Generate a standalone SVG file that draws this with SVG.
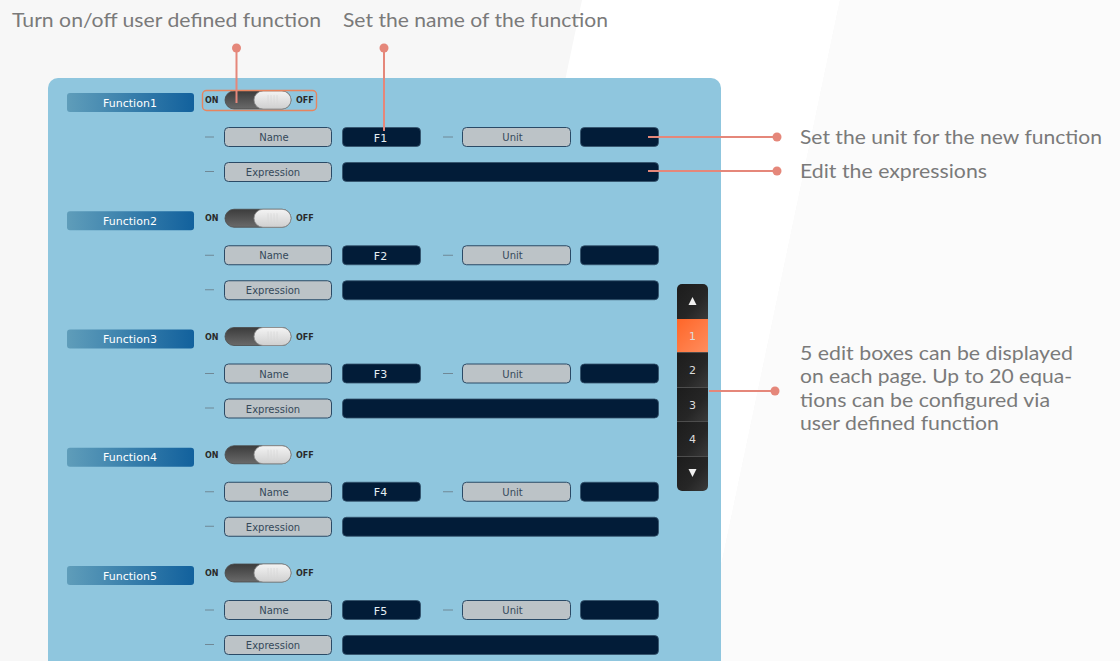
<svg xmlns="http://www.w3.org/2000/svg" width="1120" height="661" viewBox="0 0 1120 661">
<defs>
<style>
.ann{font-family:Lato,"Open Sans","Noto Sans",sans-serif;font-size:19px;fill:#7a7a7a}
.fn{font-family:"DejaVu Sans",Verdana,sans-serif;font-size:11px;fill:#ffffff;text-anchor:middle}
.lbl{font-family:"DejaVu Sans",Verdana,sans-serif;font-size:10px;fill:#34495a;text-anchor:middle}
.val{font-family:"DejaVu Sans",Verdana,sans-serif;font-size:11px;fill:#e6eef3;text-anchor:middle}
.onoff{font-family:"DejaVu Sans",Verdana,sans-serif;font-size:8px;font-weight:bold;fill:#2a2a2a}
.lb{fill:#bcc3c7;stroke:#2a4a66;stroke-width:1}
.vb{fill:#021c38;stroke:#33506a;stroke-width:0.8}
.dash{stroke:#6f8896;stroke-width:1}
.num{font-family:"DejaVu Sans",Verdana,sans-serif;font-size:11px;fill:#dcdcdc;text-anchor:middle}
.conn{stroke:#e5877a;stroke-width:2;fill:none}
.dot{fill:#e5877a}
</style>
<linearGradient id="fnG" x1="0" y1="0" x2="1" y2="0">
<stop offset="0" stop-color="#5f9dba"/>
<stop offset="1" stop-color="#12619d"/>
</linearGradient>
<linearGradient id="trackG" x1="0" y1="0" x2="0" y2="1">
<stop offset="0" stop-color="#3c3c3c"/>
<stop offset="1" stop-color="#6a6a6a"/>
</linearGradient>
<linearGradient id="knobG" x1="0" y1="0" x2="0" y2="1">
<stop offset="0" stop-color="#f4f4f4"/>
<stop offset="1" stop-color="#cfcfcf"/>
</linearGradient>
<linearGradient id="segG" x1="0" y1="0" x2="1" y2="1">
<stop offset="0" stop-color="#1c1c1c"/>
<stop offset="0.6" stop-color="#262626"/>
<stop offset="1" stop-color="#3a3a3a"/>
</linearGradient>
<linearGradient id="orG" x1="0" y1="0" x2="1" y2="1">
<stop offset="0" stop-color="#ff6628"/>
<stop offset="1" stop-color="#ff8d5e"/>
</linearGradient>
<clipPath id="sbClip"><rect x="677" y="284" width="31" height="207" rx="5"/></clipPath>
<g id="toggle">
<rect x="225" y="91" width="66" height="18" rx="9" fill="url(#trackG)" stroke="#4a4a4a" stroke-width="0.8"/>
<rect x="254" y="91" width="37" height="18" rx="9" fill="url(#knobG)" stroke="#8a8a8a" stroke-width="0.8"/>
<g stroke="#d8d8d8" stroke-width="0.8"><line x1="268" y1="95" x2="268" y2="105"/><line x1="271" y1="95" x2="271" y2="105"/><line x1="274" y1="95" x2="274" y2="105"/><line x1="277" y1="95" x2="277" y2="105"/></g>
</g>
</defs>

<!-- background -->
<rect x="0" y="0" width="1120" height="661" fill="#f7f7f7"/>
<polygon points="582,0 840,0 701,661 443,661" fill="#ffffff"/>
<polygon points="840,0 1120,0 1120,661 701,661" fill="#fbfbfb"/>

<!-- panel -->
<path d="M48,661 V88 a10,10 0 0 1 10,-10 H711 a10,10 0 0 1 10,10 V661 Z" fill="#8fc6de"/>

<!-- function blocks -->
<g id="function1">
<rect x="67" y="93" width="127" height="19" rx="3" fill="url(#fnG)"/>
<text class="fn" x="130" y="106.5">Function1</text>
<text class="onoff" x="205" y="103">ON</text>
<use href="#toggle"/>
<text class="onoff" x="296" y="103">OFF</text>
<rect x="202.5" y="90.5" width="114" height="20" rx="4" fill="none" stroke="#e8845e" stroke-width="1.4"/>
<line class="dash" x1="205" y1="137" x2="214" y2="137"/>
<rect class="lb" x="224.5" y="127.5" width="107" height="19" rx="4"/>
<text class="lbl" x="274" y="141">Name</text>
<rect class="vb" x="342.5" y="127.5" width="78" height="19" rx="4"/>
<text class="val" x="380.5" y="141.5">F1</text>
<line class="dash" x1="443" y1="137" x2="453" y2="137"/>
<rect class="lb" x="462.5" y="127.5" width="108" height="19" rx="4"/>
<text class="lbl" x="512.5" y="141">Unit</text>
<rect class="vb" x="580.5" y="127.5" width="78" height="19" rx="4"/>
<line class="dash" x1="205" y1="171.5" x2="214" y2="171.5"/>
<rect class="lb" x="224.5" y="162.5" width="107" height="19" rx="4"/>
<text class="lbl" x="273" y="176">Expression</text>
<rect class="vb" x="342.5" y="162.5" width="316" height="19" rx="4"/>
</g>

<g id="function2" transform="translate(0,118.25)">
<rect x="67" y="93" width="127" height="19" rx="3" fill="url(#fnG)"/>
<text class="fn" x="130" y="106.5">Function2</text>
<text class="onoff" x="205" y="103">ON</text>
<use href="#toggle"/>
<text class="onoff" x="296" y="103">OFF</text>
<line class="dash" x1="205" y1="137" x2="214" y2="137"/>
<rect class="lb" x="224.5" y="127.5" width="107" height="19" rx="4"/>
<text class="lbl" x="274" y="141">Name</text>
<rect class="vb" x="342.5" y="127.5" width="78" height="19" rx="4"/>
<text class="val" x="380.5" y="141.5">F2</text>
<line class="dash" x1="443" y1="137" x2="453" y2="137"/>
<rect class="lb" x="462.5" y="127.5" width="108" height="19" rx="4"/>
<text class="lbl" x="512.5" y="141">Unit</text>
<rect class="vb" x="580.5" y="127.5" width="78" height="19" rx="4"/>
<line class="dash" x1="205" y1="171.5" x2="214" y2="171.5"/>
<rect class="lb" x="224.5" y="162.5" width="107" height="19" rx="4"/>
<text class="lbl" x="273" y="176">Expression</text>
<rect class="vb" x="342.5" y="162.5" width="316" height="19" rx="4"/>
</g>

<g id="function3" transform="translate(0,236.5)">
<rect x="67" y="93" width="127" height="19" rx="3" fill="url(#fnG)"/>
<text class="fn" x="130" y="106.5">Function3</text>
<text class="onoff" x="205" y="103">ON</text>
<use href="#toggle"/>
<text class="onoff" x="296" y="103">OFF</text>
<line class="dash" x1="205" y1="137" x2="214" y2="137"/>
<rect class="lb" x="224.5" y="127.5" width="107" height="19" rx="4"/>
<text class="lbl" x="274" y="141">Name</text>
<rect class="vb" x="342.5" y="127.5" width="78" height="19" rx="4"/>
<text class="val" x="380.5" y="141.5">F3</text>
<line class="dash" x1="443" y1="137" x2="453" y2="137"/>
<rect class="lb" x="462.5" y="127.5" width="108" height="19" rx="4"/>
<text class="lbl" x="512.5" y="141">Unit</text>
<rect class="vb" x="580.5" y="127.5" width="78" height="19" rx="4"/>
<line class="dash" x1="205" y1="171.5" x2="214" y2="171.5"/>
<rect class="lb" x="224.5" y="162.5" width="107" height="19" rx="4"/>
<text class="lbl" x="273" y="176">Expression</text>
<rect class="vb" x="342.5" y="162.5" width="316" height="19" rx="4"/>
</g>

<g id="function4" transform="translate(0,354.75)">
<rect x="67" y="93" width="127" height="19" rx="3" fill="url(#fnG)"/>
<text class="fn" x="130" y="106.5">Function4</text>
<text class="onoff" x="205" y="103">ON</text>
<use href="#toggle"/>
<text class="onoff" x="296" y="103">OFF</text>
<line class="dash" x1="205" y1="137" x2="214" y2="137"/>
<rect class="lb" x="224.5" y="127.5" width="107" height="19" rx="4"/>
<text class="lbl" x="274" y="141">Name</text>
<rect class="vb" x="342.5" y="127.5" width="78" height="19" rx="4"/>
<text class="val" x="380.5" y="141.5">F4</text>
<line class="dash" x1="443" y1="137" x2="453" y2="137"/>
<rect class="lb" x="462.5" y="127.5" width="108" height="19" rx="4"/>
<text class="lbl" x="512.5" y="141">Unit</text>
<rect class="vb" x="580.5" y="127.5" width="78" height="19" rx="4"/>
<line class="dash" x1="205" y1="171.5" x2="214" y2="171.5"/>
<rect class="lb" x="224.5" y="162.5" width="107" height="19" rx="4"/>
<text class="lbl" x="273" y="176">Expression</text>
<rect class="vb" x="342.5" y="162.5" width="316" height="19" rx="4"/>
</g>

<g id="function5" transform="translate(0,473)">
<rect x="67" y="93" width="127" height="19" rx="3" fill="url(#fnG)"/>
<text class="fn" x="130" y="106.5">Function5</text>
<text class="onoff" x="205" y="103">ON</text>
<use href="#toggle"/>
<text class="onoff" x="296" y="103">OFF</text>
<line class="dash" x1="205" y1="137" x2="214" y2="137"/>
<rect class="lb" x="224.5" y="127.5" width="107" height="19" rx="4"/>
<text class="lbl" x="274" y="141">Name</text>
<rect class="vb" x="342.5" y="127.5" width="78" height="19" rx="4"/>
<text class="val" x="380.5" y="141.5">F5</text>
<line class="dash" x1="443" y1="137" x2="453" y2="137"/>
<rect class="lb" x="462.5" y="127.5" width="108" height="19" rx="4"/>
<text class="lbl" x="512.5" y="141">Unit</text>
<rect class="vb" x="580.5" y="127.5" width="78" height="19" rx="4"/>
<line class="dash" x1="205" y1="171.5" x2="214" y2="171.5"/>
<rect class="lb" x="224.5" y="162.5" width="107" height="19" rx="4"/>
<text class="lbl" x="273" y="176">Expression</text>
<rect class="vb" x="342.5" y="162.5" width="316" height="19" rx="4"/>
</g>

<!-- pager -->
<g id="pager">
<g clip-path="url(#sbClip)">
<rect x="677" y="284" width="31" height="35" fill="url(#segG)"/>
<rect x="677" y="319" width="31" height="33" fill="url(#orG)"/>
<rect x="677" y="352" width="31" height="35" fill="url(#segG)"/>
<rect x="677" y="387" width="31" height="34" fill="url(#segG)"/>
<rect x="677" y="421" width="31" height="35" fill="url(#segG)"/>
<rect x="677" y="456" width="31" height="35" fill="url(#segG)"/>
<g stroke="#4d4d4d" stroke-width="1"><line x1="677" y1="352.5" x2="708" y2="352.5"/><line x1="677" y1="387.5" x2="708" y2="387.5"/><line x1="677" y1="421.5" x2="708" y2="421.5"/><line x1="677" y1="456.5" x2="708" y2="456.5"/></g>
</g>
<polygon points="692.5,297 688.5,305 696.5,305" fill="#f0f0f0"/>
<polygon points="688.5,469 696.5,469 692.5,477" fill="#f0f0f0"/>
<text class="num" x="692.5" y="340" fill="#ffffff">1</text>
<text class="num" x="692.5" y="374">2</text>
<text class="num" x="692.5" y="409">3</text>
<text class="num" x="692.5" y="443">4</text>
</g>

<!-- connectors -->
<g id="connectors">
<line class="conn" x1="236.5" y1="48" x2="236.5" y2="103"/>
<circle class="dot" cx="236.5" cy="48" r="4.5"/>
<line class="conn" x1="384" y1="48" x2="384" y2="131"/>
<circle class="dot" cx="384" cy="48" r="4.5"/>
<line class="conn" x1="648" y1="137" x2="777" y2="137"/>
<circle class="dot" cx="777" cy="137" r="4.5"/>
<line class="conn" x1="648" y1="171" x2="777" y2="171"/>
<circle class="dot" cx="777" cy="171" r="4.5"/>
<line class="conn" x1="709" y1="391" x2="775" y2="391"/>
<circle class="dot" cx="775" cy="391" r="4.5"/>
</g>

<!-- annotations -->
<g id="annotations">
<text class="ann" x="12" y="27" textLength="309" lengthAdjust="spacingAndGlyphs">Turn on/off user defined function</text>
<text class="ann" x="343" y="27" textLength="265" lengthAdjust="spacingAndGlyphs">Set the name of the function</text>
<text class="ann" x="800" y="144" textLength="302" lengthAdjust="spacingAndGlyphs">Set the unit for the new function</text>
<text class="ann" x="800" y="178" textLength="187" lengthAdjust="spacingAndGlyphs">Edit the expressions</text>
<text class="ann" x="800" y="360" textLength="273" lengthAdjust="spacingAndGlyphs">5 edit boxes can be displayed</text>
<text class="ann" x="800" y="383" textLength="272" lengthAdjust="spacingAndGlyphs">on each page. Up to 20 equa-</text>
<text class="ann" x="800" y="407" textLength="250" lengthAdjust="spacingAndGlyphs">tions can be configured via</text>
<text class="ann" x="800" y="430" textLength="199" lengthAdjust="spacingAndGlyphs">user defined function</text>
</g>
</svg>
